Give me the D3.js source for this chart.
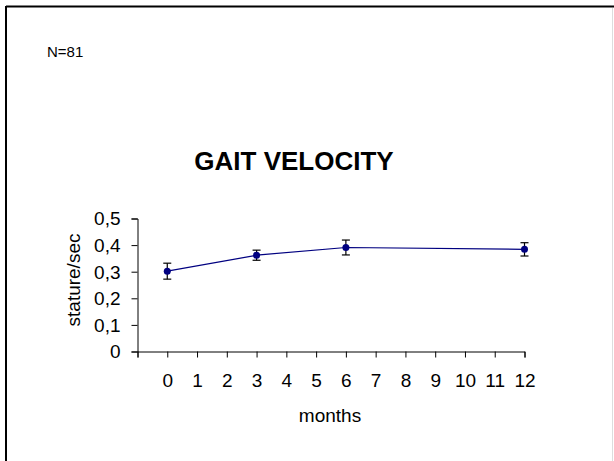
<!DOCTYPE html>
<html>
<head>
<meta charset="utf-8">
<script src="https://cdn.jsdelivr.net/npm/d3@7"></script>
<style>
  body { margin: 0; background: #fff; }
  svg text { font-family: "Liberation Sans", Arial, sans-serif; fill: #000; }
</style>
</head>
<body>
<div id="chart"></div>
<script>
// data
var months = [0, 3, 6, 12];
var velocity = [0.302, 0.362, 0.391, 0.384];
var errors = [0.030, 0.019, 0.028, 0.025];
var xTicks = [0, 1, 2, 3, 4, 5, 6, 7, 8, 9, 10, 11, 12];
var yTicks = [0, 0.1, 0.2, 0.3, 0.4, 0.5];

var width = 614, height = 461;

var svg = d3.select('#chart').append('svg')
  .attr('width', width)
  .attr('height', height);

// frame
svg.append('line').attr('x1', 6).attr('y1', 6.5).attr('x2', width).attr('y2', 6.5)
  .attr('stroke', '#000').attr('stroke-width', 2);
svg.append('line').attr('x1', 6).attr('y1', 6).attr('x2', 6).attr('y2', height)
  .attr('stroke', '#000').attr('stroke-width', 2);
svg.append('line').attr('x1', 612.5).attr('y1', 8).attr('x2', 612.5).attr('y2', height)
  .attr('stroke', '#ddd').attr('stroke-width', 1);

var x = d3.scaleLinear().domain([-1, 12]).range([137.5, 524.5]);
var y = d3.scaleLinear().domain([0, 0.5]).range([351.5, 218.5]);

function translate(a, b) { return 'translate(' + a + ',' + b + ')'; }

var fmt = function(d) { return d === 0 ? '0' : d3.format('.1f')(d).replace('.', ','); };

// y axis
var yAxis = svg.append('g')
  .attr('transform', translate(x(-1), 0))
  .call(d3.axisLeft(y).tickValues(yTicks).tickSize(6).tickPadding(11).tickFormat(fmt));
yAxis.selectAll('text').style('font-size', '19px').attr('dy', '0.34em');

// x axis
var xAxis = svg.append('g')
  .attr('transform', translate(0, y(0)))
  .call(d3.axisBottom(x).tickValues(d3.range(-1, 13)).tickSize(6).tickPadding(16)
    .tickFormat(function(d) { return xTicks.indexOf(d) < 0 ? '' : d; }));
xAxis.selectAll('text').style('font-size', '19px');
svg.selectAll('.domain').attr('stroke', '#000');
svg.selectAll('.tick line').attr('stroke', '#000');

// line
var pts = months.map(function(m, i) { return { m: m, v: velocity[i], e: errors[i] }; });

svg.append('path')
  .datum(pts)
  .attr('fill', 'none')
  .attr('stroke', '#000080')
  .attr('stroke-width', 1.2)
  .attr('d', d3.line().x(function(d) { return x(d.m); }).y(function(d) { return y(d.v); }));

// error bars
var eb = svg.append('g').attr('stroke', '#000').attr('stroke-width', 1.2);
eb.selectAll('.v').data(pts).enter().append('line')
  .attr('x1', function(d) { return x(d.m); }).attr('x2', function(d) { return x(d.m); })
  .attr('y1', function(d) { return y(d.v + d.e); }).attr('y2', function(d) { return y(d.v - d.e); });
[1, -1].forEach(function(s) {
  eb.selectAll('.c' + s).data(pts).enter().append('line')
    .attr('x1', function(d) { return x(d.m) - 4; }).attr('x2', function(d) { return x(d.m) + 4; })
    .attr('y1', function(d) { return y(d.v + s * d.e); }).attr('y2', function(d) { return y(d.v + s * d.e); });
});

// markers
svg.selectAll('.dot').data(pts).enter().append('circle')
  .attr('cx', function(d) { return x(d.m); })
  .attr('cy', function(d) { return y(d.v); })
  .attr('r', 3.5)
  .attr('fill', '#000080');

// texts
svg.append('text').attr('x', 294).attr('y', 170).attr('text-anchor', 'middle')
  .style('font-size', '26px').style('font-weight', 'bold').text('GAIT VELOCITY');
svg.append('text').attr('x', 330).attr('y', 422).attr('text-anchor', 'middle')
  .style('font-size', '19px').text('months');
svg.append('text').attr('transform', translate(80, 280) + ' rotate(-90)').attr('text-anchor', 'middle')
  .style('font-size', '19px').text('stature/sec');
svg.append('text').attr('x', 47).attr('y', 57)
  .style('font-size', '15px').text('N=81');
</script>
</body>
</html>
